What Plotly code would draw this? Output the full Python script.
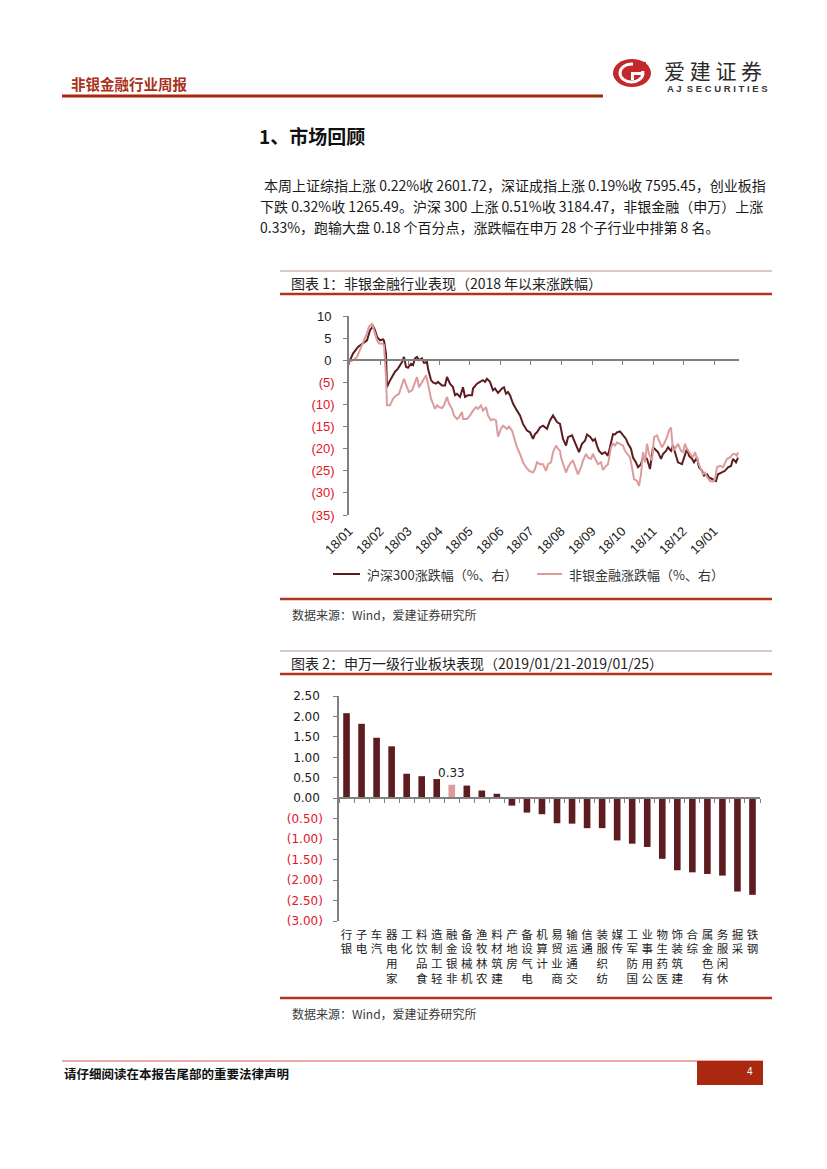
import plotly.graph_objects as go

W, H = 827, 1169
PAGE_OFFSET = 8  # the page body margin that shifts the figure inside the window

# ---------------- data ----------------
hs300_name = "沪深300涨跌幅（%、右）"
nonbank_name = "非银金融涨跌幅（%、右）"

hs300_dates = [
    "2018-01-02", "2018-01-05", "2018-01-10", "2018-01-15", "2018-01-19", "2018-01-22", "2018-01-25", "2018-01-27",
    "2018-01-29", "2018-02-01", "2018-02-04", "2018-02-05", "2018-02-07", "2018-02-08", "2018-02-10", "2018-02-13",
    "2018-02-16", "2018-02-19", "2018-02-23", "2018-02-25", "2018-02-27", "2018-03-01", "2018-03-04", "2018-03-06",
    "2018-03-08", "2018-03-10", "2018-03-12", "2018-03-15", "2018-03-17", "2018-03-20", "2018-03-21", "2018-03-24",
    "2018-03-26", "2018-03-29", "2018-03-31", "2018-04-04", "2018-04-07", "2018-04-09", "2018-04-12", "2018-04-15",
    "2018-04-17", "2018-04-19", "2018-04-22", "2018-04-25", "2018-04-27", "2018-04-30", "2018-05-04", "2018-05-05",
    "2018-05-09", "2018-05-12", "2018-05-15", "2018-05-17", "2018-05-19", "2018-05-22", "2018-05-25", "2018-05-27",
    "2018-05-30", "2018-06-03", "2018-06-05", "2018-06-07", "2018-06-09", "2018-06-11", "2018-06-14", "2018-06-18",
    "2018-06-21", "2018-06-24", "2018-06-28", "2018-07-01", "2018-07-04", "2018-07-06", "2018-07-08", "2018-07-11",
    "2018-07-14", "2018-07-18", "2018-07-21", "2018-07-24", "2018-07-28", "2018-07-31", "2018-08-01", "2018-08-03",
    "2018-08-06", "2018-08-08", "2018-08-12", "2018-08-14", "2018-08-17", "2018-08-19", "2018-08-22", "2018-08-25",
    "2018-08-27", "2018-08-30", "2018-09-02", "2018-09-04", "2018-09-06", "2018-09-08", "2018-09-11", "2018-09-14",
    "2018-09-17", "2018-09-20", "2018-09-22", "2018-09-24", "2018-09-26", "2018-09-29", "2018-10-02", "2018-10-05",
    "2018-10-07", "2018-10-10", "2018-10-12", "2018-10-15", "2018-10-17", "2018-10-20", "2018-10-22", "2018-10-24",
    "2018-10-26", "2018-10-29", "2018-11-01", "2018-11-04", "2018-11-06", "2018-11-09", "2018-11-11", "2018-11-14",
    "2018-11-16", "2018-11-19", "2018-11-21", "2018-11-24", "2018-11-26", "2018-11-30", "2018-12-02", "2018-12-05",
    "2018-12-07", "2018-12-10", "2018-12-12", "2018-12-15", "2018-12-17", "2018-12-20", "2018-12-22", "2018-12-25",
    "2018-12-27", "2018-12-30", "2019-01-01", "2019-01-03", "2019-01-05", "2019-01-09", "2019-01-12", "2019-01-15",
    "2019-01-18", "2019-01-20", "2019-01-23", "2019-01-25",
]
hs300_pct = [
    0.0, 1.5, 3.0, 3.8, 4.5, 6.8, 7.7, 6.8,
    5.3, 4.5, 4.7, 4.4, 1.5, -6.1, -5.0, -3.8,
    -2.6, -1.9, -0.4, 0.75, -1.5, -1.7, -0.8, -1.1,
    0.4, 0.75, 0.0, 0.4, -0.6, -0.4, -1.9, -4.5,
    -5.0, -5.3, -4.9, -5.7, -5.7, -3.8, -5.3, -6.1,
    -7.9, -7.6, -8.3, -6.1, -8.3, -7.9, -7.9, -6.4,
    -5.3, -4.9, -4.5, -4.9, -4.2, -4.9, -6.8, -6.4,
    -7.4, -6.4, -6.1, -7.6, -7.2, -7.9, -9.8, -11.4,
    -12.5, -14.4, -15.9, -16.3, -17.8, -16.7, -16.3, -15.2,
    -14.8, -15.5, -13.6, -12.5, -14.0, -14.4, -15.9, -17.8,
    -19.3, -17.4, -17.0, -18.2, -19.7, -20.8, -18.9, -18.2,
    -16.8, -17.3, -18.2, -17.8, -19.3, -20.5, -21.2, -20.8,
    -21.6, -18.9, -16.7, -16.8, -16.3, -16.1, -17.0, -17.8,
    -18.9, -20.0, -22.0, -23.1, -24.2, -23.5, -22.0, -22.0,
    -22.3, -24.6, -19.7, -20.5, -20.8, -22.3, -21.2, -20.5,
    -19.7, -20.5, -19.3, -21.6, -23.1, -23.5, -22.0, -20.0,
    -21.6, -22.3, -23.1, -22.0, -24.2, -25.0, -26.1, -25.8,
    -26.5, -26.9, -27.1, -27.3, -25.8, -25.4, -25.0, -24.2,
    -23.9, -22.3, -23.1, -22.0,
]

nonbank_dates = [
    "2018-01-02", "2018-01-05", "2018-01-09", "2018-01-12", "2018-01-15", "2018-01-19", "2018-01-21", "2018-01-24",
    "2018-01-26", "2018-01-29", "2018-01-31", "2018-02-03", "2018-02-05", "2018-02-07", "2018-02-08", "2018-02-11",
    "2018-02-14", "2018-02-17", "2018-02-20", "2018-02-23", "2018-02-25", "2018-02-28", "2018-03-02", "2018-03-05",
    "2018-03-07", "2018-03-10", "2018-03-12", "2018-03-15", "2018-03-17", "2018-03-19", "2018-03-21", "2018-03-24",
    "2018-03-26", "2018-03-28", "2018-03-30", "2018-04-01", "2018-04-04", "2018-04-06", "2018-04-09", "2018-04-11",
    "2018-04-14", "2018-04-16", "2018-04-19", "2018-04-21", "2018-04-24", "2018-04-25", "2018-04-29", "2018-05-02",
    "2018-05-05", "2018-05-08", "2018-05-10", "2018-05-13", "2018-05-15", "2018-05-18", "2018-05-20", "2018-05-23",
    "2018-05-25", "2018-05-28", "2018-05-30", "2018-06-02", "2018-06-04", "2018-06-08", "2018-06-10", "2018-06-13",
    "2018-06-15", "2018-06-18", "2018-06-21", "2018-06-24", "2018-06-27", "2018-06-30", "2018-07-04", "2018-07-06",
    "2018-07-08", "2018-07-11", "2018-07-14", "2018-07-17", "2018-07-19", "2018-07-22", "2018-07-24", "2018-07-27",
    "2018-07-29", "2018-07-31", "2018-08-01", "2018-08-03", "2018-08-06", "2018-08-08", "2018-08-11", "2018-08-13",
    "2018-08-16", "2018-08-18", "2018-08-21", "2018-08-23", "2018-08-26", "2018-08-28", "2018-08-31", "2018-09-02",
    "2018-09-05", "2018-09-07", "2018-09-10", "2018-09-12", "2018-09-15", "2018-09-17", "2018-09-20", "2018-09-22",
    "2018-09-24", "2018-09-26", "2018-09-29", "2018-10-02", "2018-10-04", "2018-10-06", "2018-10-09", "2018-10-11",
    "2018-10-13", "2018-10-16", "2018-10-18", "2018-10-20", "2018-10-22", "2018-10-24", "2018-10-26", "2018-10-28",
    "2018-10-31", "2018-11-02", "2018-11-05", "2018-11-07", "2018-11-10", "2018-11-12", "2018-11-15", "2018-11-17",
    "2018-11-19", "2018-11-21", "2018-11-24", "2018-11-26", "2018-11-29", "2018-12-01", "2018-12-03", "2018-12-05",
    "2018-12-08", "2018-12-11", "2018-12-13", "2018-12-15", "2018-12-18", "2018-12-21", "2018-12-23", "2018-12-25",
    "2018-12-28", "2018-12-31", "2019-01-02", "2019-01-04", "2019-01-07", "2019-01-10", "2019-01-12", "2019-01-14",
    "2019-01-17", "2019-01-20", "2019-01-22", "2019-01-24", "2019-01-25",
]
nonbank_pct = [
    -0.4, 0.0, 0.75, 2.3, 3.8, 6.1, 7.6, 8.2,
    6.8, 4.5, 3.8, 3.8, 3.4, -3.8, -10.2, -10.2,
    -8.7, -8.0, -7.6, -5.7, -4.2, -6.1, -7.2, -6.8,
    -5.7, -3.8, -6.1, -4.9, -4.2, -3.4, -5.3, -8.7,
    -9.8, -11.0, -10.2, -10.6, -10.8, -10.2, -8.3, -9.8,
    -11.0, -12.5, -13.3, -12.9, -11.7, -13.3, -13.3, -12.5,
    -11.4, -10.6, -11.0, -10.2, -11.4, -10.6, -12.5, -13.6,
    -13.3, -13.6, -17.3, -15.5, -14.8, -15.5, -15.0, -15.9,
    -17.4, -19.7, -21.2, -23.1, -24.2, -25.0, -25.4, -24.6,
    -23.1, -23.5, -23.5, -25.0, -23.5, -23.1, -20.8, -19.3,
    -20.0, -20.5, -22.0, -23.5, -25.4, -24.2, -23.1, -22.7,
    -24.6, -25.8, -24.2, -22.7, -21.2, -22.0, -22.3, -21.2,
    -22.7, -23.5, -23.1, -24.8, -23.9, -23.5, -19.7, -18.9,
    -19.3, -18.6, -18.9, -19.3, -20.5, -21.2, -22.0, -24.2,
    -26.9, -27.3, -28.4, -25.8, -20.8, -23.1, -18.9, -21.2,
    -22.7, -17.4, -17.0, -18.2, -19.7, -18.9, -17.4, -15.9,
    -15.2, -20.5, -19.7, -18.9, -20.5, -20.8, -18.9, -20.1,
    -21.2, -22.0, -20.8, -22.3, -24.2, -25.8, -25.4, -26.4,
    -27.3, -27.4, -26.9, -24.2, -23.9, -24.2, -23.1, -22.3,
    -22.0, -21.2, -21.2, -21.6, -20.8,
]
y1_ticks = [10, 5, 0, -5, -10, -15, -20, -25, -30, -35]

industries = ["银行", "电子", "汽车", "家用电器", "化工", "食品饮料", "轻工制造", "非银金融",
              "机械设备", "农林牧渔", "建筑材料", "房地产", "电气设备", "计算机", "商业贸易",
              "交通运输", "通信", "纺织服装", "传媒", "国防军工", "公用事业", "医药生物",
              "建筑装饰", "综合", "有色金属", "休闲服务", "采掘", "钢铁"]
weekly_chg = [2.08, 1.82, 1.48, 1.27, 0.60, 0.54, 0.47, 0.33,
              0.31, 0.19, 0.11, -0.18, -0.35, -0.39, -0.61,
              -0.62, -0.73, -0.73, -1.03, -1.11, -1.19, -1.48,
              -1.76, -1.81, -1.85, -1.89, -2.28, -2.36]
highlight = "非银金融"
y2_ticks = [2.5, 2.0, 1.5, 1.0, 0.5, 0.0, -0.5, -1.0, -1.5, -2.0, -2.5, -3.0]

# ---------------- styling ----------------
CJK = "Noto Sans CJK SC"
ARIAL = "Liberation Sans, Noto Sans CJK SC"
DARK = "#5c1c20"
PINK = "#dc9c9c"
RED_LABEL = "#e3151f"
BRICK = "#b3341c"
AXIS_GREY = "#808080"


def fx(x):
    return (x - PAGE_OFFSET) / W


def fy(y):
    return 1 - (y - PAGE_OFFSET) / H


def tick_label(v, dec):
    s = f"{abs(v):.{dec}f}"
    if v < 0:
        return f'<span style="color:{RED_LABEL}">({s})</span>'
    return s + "\u2005"


def stacked_upward(s):
    # characters stay upright, read from bottom to top
    return "<br>".join(reversed(list(s)))


c1x = [fx(349), fx(739)]
c1y = [fy(515), fy(316)]
c1r = [-35, 10]
c2x = [fx(339), fx(760)]
c2y = [fy(921), fy(696)]
c2r = [-3.0, 2.5]
zero1 = c1y[0] + (0 - c1r[0]) / (c1r[1] - c1r[0]) * (c1y[1] - c1y[0])
zero2 = c2y[0] + (0 - c2r[0]) / (c2r[1] - c2r[0]) * (c2y[1] - c2y[0])

fig = go.Figure()

# chart 1 lines
fig.add_trace(go.Scatter(x=hs300_dates, y=hs300_pct, mode="lines", name=hs300_name,
                         line=dict(color=DARK, width=2), xaxis="x", yaxis="y", showlegend=False))
fig.add_trace(go.Scatter(x=nonbank_dates, y=nonbank_pct, mode="lines", name=nonbank_name,
                         line=dict(color=PINK, width=2), xaxis="x", yaxis="y", showlegend=False))
fig.add_trace(go.Scatter(x=[hs300_dates[0]], y=[None], mode="lines", xaxis="x2", yaxis="y",
                         showlegend=False, hoverinfo="skip"))

# chart 2 bars
bar_colors = [PINK if c == highlight else DARK for c in industries]
fig.add_trace(go.Bar(x=industries, y=weekly_chg, marker=dict(color=bar_colors, line=dict(width=0)),
                     xaxis="x3", yaxis="y3", showlegend=False))
fig.add_trace(go.Scatter(x=industries, y=[None] * len(industries), mode="lines", xaxis="x4", yaxis="y3",
                         showlegend=False, hoverinfo="skip"))

hi_idx = industries.index(highlight)

fig.update_layout(
    width=W, height=H,
    margin=dict(l=0, r=0, t=0, b=0, pad=0, autoexpand=False),
    paper_bgcolor="white", plot_bgcolor="white",
    font=dict(family=CJK, color="#222222"),
    bargap=0.56,
    xaxis=dict(domain=c1x, anchor="y", type="date", range=["2018-01-01", "2019-01-26"],
               tick0="2018-01-01", dtick="M1", tickformat="%y/%m", tickangle=-45,
               ticks="", showline=False, showgrid=False, zeroline=False,
               automargin=False, ticklabelstandoff=5,
               tickfont=dict(family=ARIAL, size=13, color="#1a1a1a")),
    xaxis2=dict(overlaying="x", anchor="free", position=zero1, type="date",
                range=["2018-01-01", "2019-01-26"], tick0="2018-01-01", dtick="M1",
                ticks="outside", ticklen=4, tickwidth=1, tickcolor=AXIS_GREY,
                showticklabels=False, showline=True, linecolor=AXIS_GREY, linewidth=2,
                showgrid=False, zeroline=False, automargin=False),
    yaxis=dict(domain=c1y, anchor="x", range=c1r, tickvals=y1_ticks,
               ticktext=[tick_label(v, 0) for v in y1_ticks],
               ticks="outside", ticklen=4, tickcolor=AXIS_GREY, showline=True,
               linecolor=AXIS_GREY, linewidth=1.5, showgrid=False, zeroline=False,
               ticklabelstandoff=6, automargin=False,
               tickfont=dict(family=ARIAL, size=13, color="#1a1a1a")),
    xaxis3=dict(domain=c2x, anchor="y3", type="category", categoryorder="array",
                categoryarray=industries, range=[-0.5, len(industries) - 0.5],
                tickvals=industries, ticktext=[stacked_upward(s) for s in industries],
                tickangle=0, ticks="", showline=False, showgrid=False, zeroline=False,
                automargin=False, ticklabelstandoff=5,
                tickfont=dict(family=CJK, size=11.5, color="#222222")),
    xaxis4=dict(overlaying="x3", anchor="free", position=zero2, type="category",
                categoryorder="array", categoryarray=industries,
                range=[-0.5, len(industries) - 0.5], tickson="boundaries",
                ticks="outside", ticklen=4, tickcolor=AXIS_GREY, showticklabels=False,
                showline=True, linecolor=AXIS_GREY, linewidth=2, showgrid=False, zeroline=False,
                automargin=False),
    yaxis3=dict(domain=c2y, anchor="x3", range=c2r, tickvals=y2_ticks,
                ticktext=[tick_label(v, 2) for v in y2_ticks],
                ticks="outside", ticklen=4, tickcolor=AXIS_GREY, showline=True,
                linecolor=AXIS_GREY, linewidth=1.5, showgrid=False, zeroline=False,
                ticklabelstandoff=8, automargin=False,
                tickfont=dict(family="DejaVu Sans", size=12, color="#1a1a1a")),
)

shapes = []


def hline(x0, x1, y, color, width):
    shapes.append(dict(type="line", xref="paper", yref="paper", x0=fx(x0), x1=fx(x1),
                       y0=fy(y), y1=fy(y), line=dict(color=color, width=width), layer="above"))


def rect(x0, y0, x1, y1, color):
    shapes.append(dict(type="rect", xref="paper", yref="paper", x0=fx(x0), x1=fx(x1),
                       y0=fy(y1), y1=fy(y0), fillcolor=color, line=dict(width=0)))


# header
hline(62, 603, 96, "#a7280d", 3)
# logo
shapes.append(dict(type="circle", xref="paper", yref="paper", x0=fx(613), x1=fx(651), y0=fy(87), y1=fy(59),
                   fillcolor="#c3282c", line=dict(width=0)))
shapes.append(dict(type="circle", xref="paper", yref="paper", x0=fx(620), x1=fx(643), y0=fy(82), y1=fy(64),
                   fillcolor="rgba(0,0,0,0)", line=dict(color="white", width=3)))
rect(633, 62, 646, 71, "#c3282c")
rect(631, 72, 644, 75, "white")
rect(631, 72, 634, 80, "white")

# chart frames
for top, bottom in [(271, 294), (651, 674)]:
    hline(280, 772, top, "#b49488", 1)
    hline(280, 772, bottom, BRICK, 2.5)
hline(280, 772, 599, BRICK, 2.5)
hline(280, 772, 998, BRICK, 2.5)

# legend samples
hline(333, 360, 574, DARK, 2)
hline(537, 562, 574, PINK, 2)

# footer
hline(62, 763, 1061, "#d9534f", 1)
rect(697, 1061, 763, 1085, "#a9280f")

annotations = []


def note(x, y, text, size, color="#222222", family=CJK, xanchor="left"):
    annotations.append(dict(x=fx(x), y=fy(y), xref="paper", yref="paper", text=text, showarrow=False,
                            xanchor=xanchor, yanchor="middle",
                            font=dict(size=size, color=color, family=family)))


note(69, 83, "<b>非银金融行业周报</b>", 14.5, color="#a8321a")
note(662, 70, "爱 建 证 券", 21, color="#2a2a2a")
note(665, 88, "<b>A J  S E C U R I T I E S</b>", 9.5, color="#333333", family=ARIAL)

note(257, 135, "<b>1、市场回顾</b>", 19, color="#111111")
note(262, 185, "本周上证综指上涨 0.22%收 2601.72，深证成指上涨 0.19%收 7595.45，创业板指", 14, color="#1a1a1a")
note(258, 206, "下跌 0.32%收 1265.49。沪深 300 上涨 0.51%收 3184.47，非银金融（申万）上涨", 14, color="#1a1a1a")
note(258, 227, "0.33%，跑输大盘 0.18 个百分点，涨跌幅在申万 28 个子行业中排第 8 名。", 14, color="#1a1a1a")

note(289, 283, "图表 1：非银金融行业表现（2018 年以来涨跌幅）", 14, color="#222222")
note(365, 575, hs300_name, 13, color="#333333")
note(567, 575, nonbank_name, 13, color="#333333")
note(290, 614, "数据来源：Wind，爱建证券研究所", 12, color="#3a3a3a")

note(289, 663, "图表 2：申万一级行业板块表现（2019/01/21-2019/01/25）", 14, color="#222222")
note(290, 1013, "数据来源：Wind，爱建证券研究所", 12, color="#3a3a3a")

annotations.append(dict(x=industries[hi_idx], y=weekly_chg[hi_idx], xref="x3", yref="y3",
                        text=f"{weekly_chg[hi_idx]:.2f}", showarrow=False, yanchor="bottom", yshift=3,
                        font=dict(size=12, color="#222222", family="DejaVu Sans")))

note(62, 1073, "<b>请仔细阅读在本报告尾部的重要法律声明</b>", 12.5, color="#111111")
note(750, 1071, "4", 10, color="white", family=ARIAL, xanchor="center")

fig.update_layout(shapes=shapes, annotations=annotations)
fig.write_html("out.html")
